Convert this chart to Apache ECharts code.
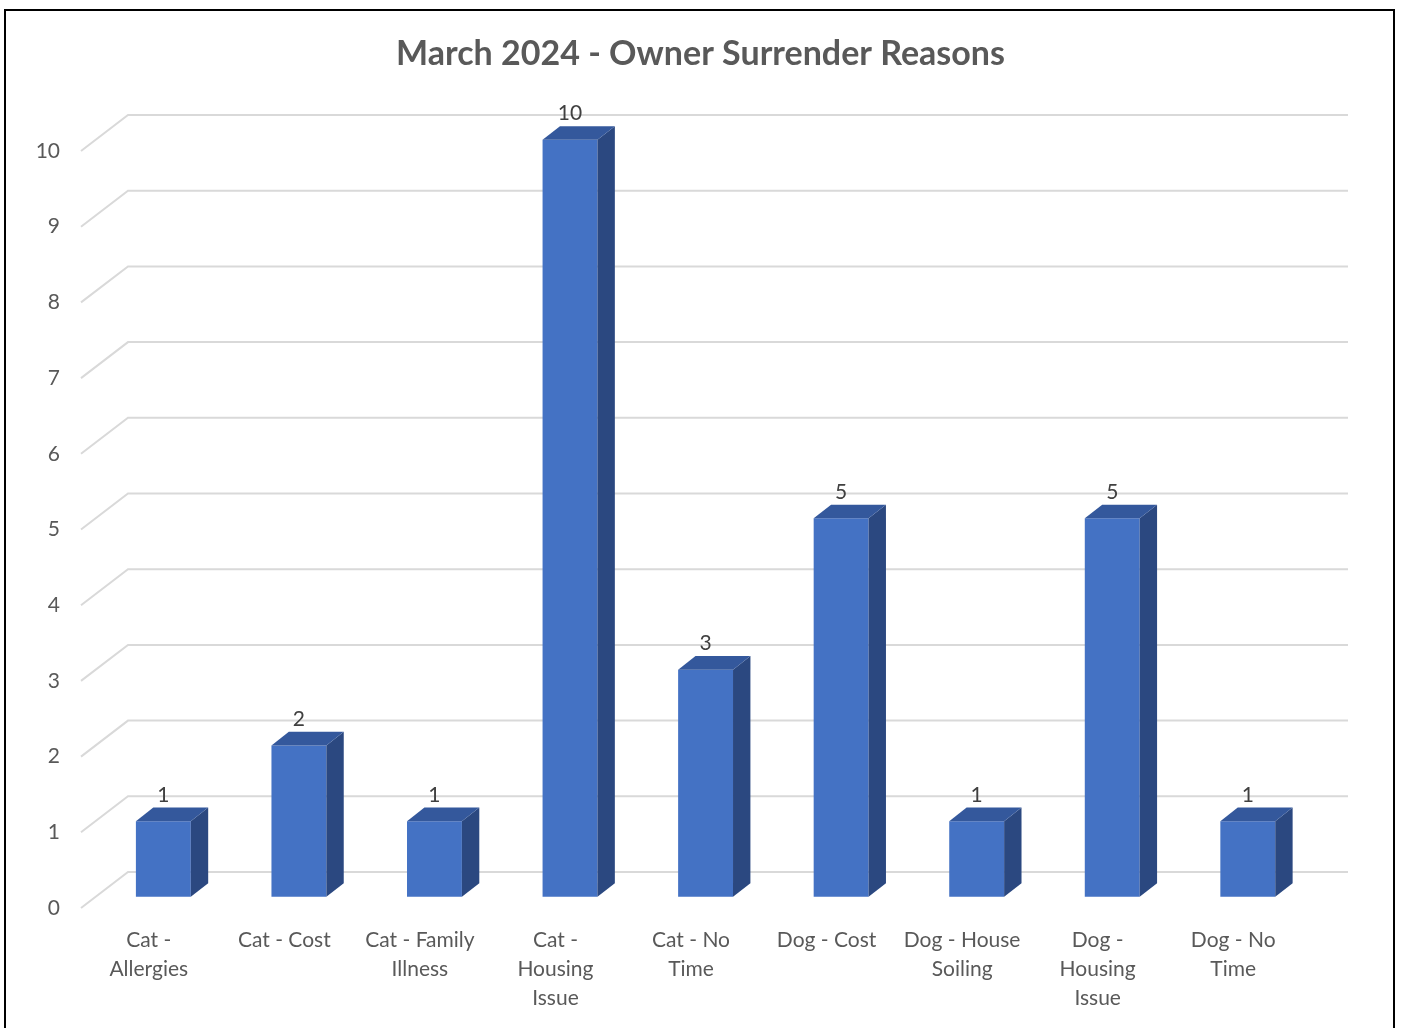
<!DOCTYPE html>
<html>
<head>
<meta charset="utf-8">
<title>March 2024 - Owner Surrender Reasons</title>
<script src="https://cdn.jsdelivr.net/npm/echarts@6/dist/echarts.min.js"></script>
<style>
  html, body { margin: 0; padding: 0; background: #fff; }
  #chart { width: 1401px; height: 1028px; }
</style>
</head>
<body>
<div id="chart"></div>
<script>
// categories as Excel wraps them under the bars
var categories = [
  'Cat -\nAllergies', 'Cat - Cost', 'Cat - Family\nIllness', 'Cat -\nHousing\nIssue',
  'Cat - No\nTime', 'Dog - Cost', 'Dog - House\nSoiling', 'Dog -\nHousing\nIssue', 'Dog - No\nTime'
];
var counts = [1, 2, 1, 10, 3, 5, 1, 5, 1];
var yTicks = [0, 1, 2, 3, 4, 5, 6, 7, 8, 9, 10];

var FONT = 'Lato, "Open Sans", sans-serif';
var TEXT = '#595959';
var GRID = '#d9d9d9';
var FRONT = '#4472c4', TOP = '#34589c', SIDE = '#2b4880';

// depth of the 3D floor, in pixels
var DX = 47, DY = 36;

var chart = echarts.init(document.getElementById('chart'));

function renderGridLine(params, api) {
  var cs = params.coordSys;
  var y = api.coord([0, api.value(1)])[1];
  return {
    type: 'polyline',
    silent: true,
    shape: { points: [[cs.x, y], [cs.x + DX, y - DY], [cs.x + cs.width + DX, y - DY]] },
    style: { stroke: GRID, lineWidth: 2, fill: null }
  };
}

function renderBar(params, api) {
  var i = api.value(0), v = api.value(1);
  var base = api.coord([i, 0]);
  var top = api.coord([i, v]);
  var band = api.size([1, 0])[0];
  var w = band * 0.405;
  // front face sits a bit back from the floor edge
  var fx = DX * 0.31, fy = DY * 0.31;
  var sx = DX * 0.37, sy = DY * 0.38;
  var x0 = base[0] + fx - w / 2, x1 = x0 + w;
  var yb = base[1] - fy, yt = top[1] - fy;
  return {
    type: 'group',
    children: [
      { type: 'rect', shape: { x: x0, y: yt, width: w, height: yb - yt }, style: { fill: FRONT } },
      { type: 'polygon', shape: { points: [[x1, yb], [x1 + sx, yb - sy], [x1 + sx, yt - sy], [x1, yt]] }, style: { fill: SIDE } },
      { type: 'polygon', shape: { points: [[x0, yt], [x1, yt], [x1 + sx, yt - sy], [x0 + sx, yt - sy]] }, style: { fill: TOP } },
      {
        type: 'text',
        style: {
          x: x0 + w / 2, y: yt - sy - 2, text: String(v),
          align: 'center', verticalAlign: 'bottom',
          fill: '#404040', font: '21px ' + FONT
        }
      }
    ]
  };
}

var option = {
  animation: false,
  title: {
    text: 'March 2024 - Owner Surrender Reasons',
    left: 'center',
    top: 32,
    textStyle: { color: TEXT, fontSize: 34, fontWeight: 'bold', fontFamily: FONT }
  },
  graphic: [{
    type: 'rect',
    shape: { x: 5, y: 10, width: 1389, height: 1100 },
    style: { fill: null, stroke: '#000', lineWidth: 2 },
    silent: true
  }],
  grid: { left: 81, right: 100, top: 151, bottom: 120 },
  xAxis: {
    type: 'category',
    data: categories,
    axisLine: { show: false },
    axisTick: { show: false },
    axisLabel: {
      color: TEXT, fontSize: 21, fontFamily: FONT, lineHeight: 29,
      margin: 18, interval: 0
    }
  },
  yAxis: {
    type: 'value',
    min: 0, max: 10, interval: 1,
    axisLine: { show: false },
    axisTick: { show: false },
    splitLine: { show: false },
    axisLabel: { color: TEXT, fontSize: 21, fontFamily: FONT, margin: 21 }
  },
  series: [
    {
      type: 'custom',
      renderItem: renderGridLine,
      data: yTicks.map(function (t) { return [0, t]; }),
      encode: { x: 0, y: 1 },
      z: 1,
      silent: true
    },
    {
      type: 'custom',
      renderItem: renderBar,
      data: counts.map(function (c, i) { return [i, c]; }),
      encode: { x: 0, y: 1 },
      z: 2
    }
  ]
};

chart.setOption(option);
</script>
</body>
</html>
